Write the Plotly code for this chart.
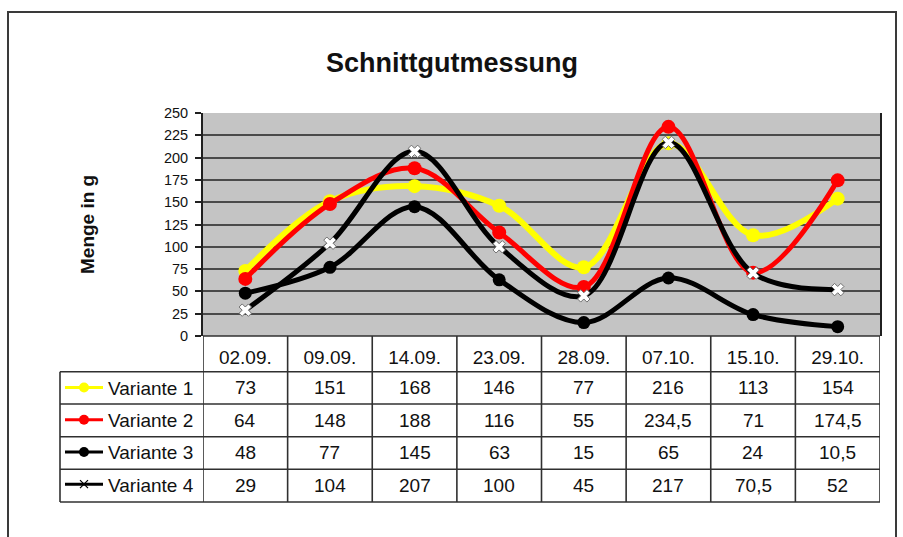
import plotly.graph_objects as go

W, H = 903, 537

dates = ["02.09.", "09.09.", "14.09.", "23.09.", "28.09.", "07.10.", "15.10.", "29.10."]
variante1 = [73, 151, 168, 146, 77, 216, 113, 154]
variante2 = [64, 148, 188, 116, 55, 234.5, 71, 174.5]
variante3 = [48, 77, 145, 63, 15, 65, 24, 10.5]
variante4 = [29, 104, 207, 100, 45, 217, 70.5, 52]
series_names = ["Variante 1", "Variante 2", "Variante 3", "Variante 4"]
y_ticks = [0, 25, 50, 75, 100, 125, 150, 175, 200, 225, 250]

def px(x):
    return x / W

def py(y):
    return (H - y) / H

def fmt(v):
    if float(v).is_integer():
        return str(int(v))
    return str(v).replace(".", ",")

# layout geometry in pixels
PL, PR, PT, PB = 203, 880, 113, 336
LEG_L = 60
ROW_EDGES = [336, 371.7, 404, 436.7, 469.3, 502]

plot_styles = [
    dict(line=dict(color="#FFFF00", width=6), marker=dict(symbol="circle", size=14, color="#FFFF00")),
    dict(line=dict(color="#FF0000", width=5), marker=dict(symbol="circle", size=14, color="#FF0000")),
    dict(line=dict(color="#000000", width=5), marker=dict(symbol="circle", size=13, color="#000000")),
    dict(line=dict(color="#000000", width=5), marker=dict(symbol="x", size=11, color="#FFFFFF",
                                                         line=dict(color="#707070", width=1))),
]
legend_styles = [
    dict(line=dict(color="#FFFF00", width=3), marker=dict(symbol="circle", size=10, color="#FFFF00")),
    dict(line=dict(color="#FF0000", width=3), marker=dict(symbol="circle", size=10, color="#FF0000")),
    dict(line=dict(color="#000000", width=3), marker=dict(symbol="circle", size=10, color="#000000")),
    dict(line=dict(color="#000000", width=3), marker=dict(symbol="x-thin", size=8, color="#000000",
                                                         line=dict(color="#000000", width=1.2))),
]

fig = go.Figure()
for i, (name, vals) in enumerate(zip(series_names, [variante1, variante2, variante3, variante4])):
    fig.add_trace(go.Scatter(
        x=dates, y=vals, name=name, mode="lines+markers",
        line=dict(shape="spline", smoothing=1.0, **plot_styles[i]["line"]),
        marker=plot_styles[i]["marker"], legendgroup=name, showlegend=False, cliponaxis=False,
    ))
# legend keys (no data points)
for i, name in enumerate(series_names):
    fig.add_trace(go.Scatter(
        x=[None], y=[None], name=name, mode="lines+markers",
        line=legend_styles[i]["line"], marker=legend_styles[i]["marker"],
        legendgroup=name, showlegend=True,
    ))

shapes = []
# outer frame
shapes.append(dict(type="rect", xref="paper", yref="paper", x0=px(8), x1=px(896), y0=py(545), y1=py(12),
                   line=dict(color="#3a3a3a", width=2), fillcolor="rgba(0,0,0,0)"))
# table horizontal lines
for k, yy in enumerate(ROW_EDGES):
    x0 = PL if k == 0 else LEG_L
    shapes.append(dict(type="line", xref="paper", yref="paper", x0=px(x0), x1=px(PR), y0=py(yy), y1=py(yy),
                       line=dict(color="#303030", width=1.6)))
# vertical lines at category boundaries
for j in range(len(dates) + 1):
    shapes.append(dict(type="line", xref="x", yref="paper", x0=j - 0.5, x1=j - 0.5,
                       y0=py(ROW_EDGES[-1]), y1=py(ROW_EDGES[0]), line=dict(color="#303030", width=1.6)))
# legend column left edge
shapes.append(dict(type="line", xref="paper", yref="paper", x0=px(LEG_L), x1=px(LEG_L),
                   y0=py(ROW_EDGES[-1]), y1=py(ROW_EDGES[1]), line=dict(color="#303030", width=1.6)))

annotations = []
annotations.append(dict(text="<b>Schnittgutmessung</b>", x=px(452), y=py(63), xref="paper", yref="paper",
                        xanchor="center", yanchor="middle",
                        showarrow=False, font=dict(size=27, color="#111111")))
annotations.append(dict(text="<b>Menge in g</b>", x=px(88), y=py(225), xref="paper", yref="paper",
                        xanchor="center", yanchor="middle",
                        showarrow=False, textangle=-90, font=dict(size=19, color="#111111")))
for r, vals in enumerate([variante1, variante2, variante3, variante4]):
    yc = (ROW_EDGES[r + 1] + ROW_EDGES[r + 2]) / 2
    for d, v in zip(dates, vals):
        annotations.append(dict(text=fmt(v), x=d, y=py(yc), xref="x", yref="paper", showarrow=False,
                                xanchor="center", yanchor="middle",
                                font=dict(size=19, color="#111111")))

fig.update_layout(
    width=W, height=H,
    margin=dict(l=0, r=0, t=0, b=0, autoexpand=False),
    paper_bgcolor="white",
    plot_bgcolor="#C4C4C4",
    font=dict(family="Arial, Liberation Sans, sans-serif", color="#111111"),
    showlegend=True,
    legend=dict(x=px(LEG_L), y=py(ROW_EDGES[1] - 3), xanchor="left", yanchor="top",
                font=dict(size=19, color="#111111"), tracegroupgap=4.5, bgcolor="rgba(0,0,0,0)",
                borderwidth=0, itemwidth=38),
    xaxis=dict(domain=[px(PL), px(PR)], range=[-0.5, len(dates) - 0.5], type="category",
               showgrid=False, zeroline=False, showline=False, ticks="",
               tickfont=dict(size=19, color="#111111"), ticklabelstandoff=8, fixedrange=True),
    yaxis=dict(domain=[py(PB), py(PT)], range=[0, 250], tickvals=y_ticks, showgrid=True,
               gridcolor="#4a4a4a", gridwidth=2, zeroline=False, showline=True, linecolor="#202020",
               linewidth=2, mirror=True, ticks="outside", ticklen=6, tickcolor="#202020", tickwidth=1.5,
               tickfont=dict(size=14.5, color="#111111"), ticklabelstandoff=4, fixedrange=True),
    shapes=shapes,
    annotations=annotations,
)

fig.write_html("out.html", config={"displayModeBar": False},
               post_script="document.body.style.margin='0';document.body.style.overflow='hidden';")
